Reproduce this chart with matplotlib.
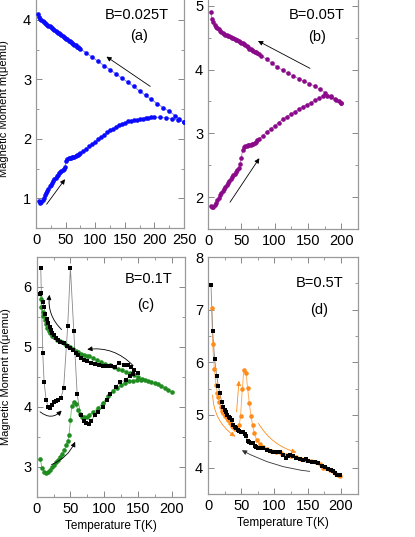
import numpy as np
import matplotlib.pyplot as plt
from matplotlib.ticker import MultipleLocator

plt.rcParams['font.family'] = ['Liberation Sans', 'DejaVu Sans']

# ---- (a) B=0.025T ----
a_fc_T = [3, 5, 7, 9, 11, 13, 15, 17, 19, 21, 23, 25, 27, 29, 31, 33, 35, 37, 39, 41,
          43, 45, 47, 49, 51, 53, 55, 57, 59, 61, 63, 65, 67, 69, 71, 73, 75, 85, 95, 105,
          115, 125, 135, 145, 155, 165, 175, 185, 195, 205, 215, 225, 235, 242, 250]
a_fc_m = [4.10, 4.05, 4.02, 4.00, 3.98, 3.96, 3.94, 3.93, 3.91, 3.90, 3.89, 3.87, 3.86, 3.84,
          3.83, 3.81, 3.80, 3.78, 3.77, 3.76, 3.74, 3.73, 3.71, 3.70, 3.68, 3.67, 3.65, 3.64,
          3.62, 3.61, 3.59, 3.58, 3.57, 3.55, 3.54, 3.52, 3.51, 3.44, 3.37, 3.30, 3.23, 3.16,
          3.09, 3.02, 2.95, 2.88, 2.80, 2.73, 2.66, 2.59, 2.52, 2.46, 2.39, 2.34, 2.28]
a_zfc_T = [5, 7, 9, 11, 13, 15, 17, 19, 21, 23, 25, 27, 29, 31, 33, 35, 37, 39, 41, 43, 45,
           47, 49, 51, 53, 55, 57, 59, 61, 63, 65, 67, 69, 71, 73, 75, 80, 85, 90, 95, 100,
           105, 110, 115, 120, 125, 130, 135, 140, 145, 150, 155, 160, 165, 170, 175, 180,
           185, 190, 195, 200, 210, 220, 230, 240, 250]
a_zfc_m = [0.95, 0.92, 0.93, 0.97, 1.01, 1.05, 1.09, 1.13, 1.16, 1.20, 1.23, 1.26, 1.29, 1.32,
           1.34, 1.37, 1.39, 1.42, 1.44, 1.46, 1.48, 1.50, 1.53, 1.62, 1.66, 1.67, 1.68, 1.68,
           1.69, 1.69, 1.70, 1.71, 1.72, 1.73, 1.74, 1.76, 1.79, 1.83, 1.87, 1.91, 1.95, 1.99,
           2.03, 2.07, 2.11, 2.14, 2.17, 2.20, 2.23, 2.25, 2.27, 2.29, 2.30, 2.31, 2.32, 2.33,
           2.34, 2.35, 2.35, 2.36, 2.36, 2.36, 2.35, 2.34, 2.31, 2.28]

# ---- (b) B=0.05T ----
b_fc_T = [4, 6, 8, 10, 12, 14, 16, 18, 20, 22, 24, 26, 28, 30, 32, 34, 36, 38, 40, 42, 44,
          46, 48, 50, 52, 54, 56, 58, 60, 62, 64, 66, 68, 70, 72, 74, 76, 80, 88, 96, 104,
          112, 120, 128, 136, 144, 152, 160, 168, 176, 184, 192, 200]
b_fc_m = [4.90, 4.80, 4.74, 4.70, 4.67, 4.65, 4.63, 4.61, 4.59, 4.58, 4.56, 4.55, 4.54, 4.53,
          4.52, 4.51, 4.50, 4.49, 4.48, 4.47, 4.46, 4.45, 4.43, 4.42, 4.41, 4.40, 4.38, 4.37,
          4.35, 4.33, 4.32, 4.30, 4.29, 4.28, 4.27, 4.26, 4.25, 4.22, 4.16, 4.10, 4.04, 3.99,
          3.94, 3.90, 3.86, 3.82, 3.78, 3.74, 3.69, 3.64, 3.59, 3.53, 3.47]
b_zfc_T = [4, 6, 8, 10, 12, 14, 16, 18, 20, 22, 24, 26, 28, 30, 32, 34, 36, 38, 40, 42, 44,
           46, 48, 50, 52, 54, 56, 58, 60, 62, 64, 66, 68, 70, 72, 74, 76, 82, 88, 94, 100,
           106, 112, 118, 124, 130, 136, 142, 148, 154, 160, 166, 172, 178, 184, 190, 196, 200]
b_zfc_m = [1.86, 1.85, 1.85, 1.87, 1.91, 1.95, 1.99, 2.03, 2.06, 2.10, 2.13, 2.16, 2.19, 2.22,
           2.25, 2.28, 2.31, 2.34, 2.37, 2.40, 2.43, 2.46, 2.52, 2.62, 2.74, 2.79, 2.80, 2.80,
           2.81, 2.81, 2.82, 2.83, 2.84, 2.85, 2.87, 2.89, 2.91, 2.96, 3.02, 3.07, 3.12, 3.17,
           3.22, 3.26, 3.30, 3.34, 3.38, 3.42, 3.45, 3.48, 3.52, 3.55, 3.58, 3.59, 3.57, 3.54,
           3.50, 3.47]

# ---- (c) B=0.1T ----
c_blk_w_T = [6, 9, 11, 14, 17, 19, 23, 26, 29, 32, 36, 40, 46, 50, 55, 60, 65, 70, 73, 77,
             81, 86, 91, 98, 104, 109, 117, 123, 132, 138, 143, 150]
c_blk_w_m = [6.32, 4.90, 4.41, 4.12, 4.00, 3.98, 4.04, 4.08, 4.10, 4.12, 4.15, 4.32, 5.35, 6.32,
             5.27, 4.22, 3.86, 3.76, 3.73, 3.72, 3.77, 3.86, 3.92, 4.00, 4.12, 4.22, 4.33, 4.41,
             4.45, 4.52, 4.55, 4.57]
c_blk_c_T = [5, 7, 9, 11, 13, 15, 17, 19, 21, 23, 25, 28, 31, 35, 40, 45, 50, 54, 58, 62, 66,
             70, 74, 80, 86, 92, 98, 104, 110, 116, 122, 129, 135, 140, 145, 150]
c_blk_c_m = [5.88, 5.90, 5.75, 5.66, 5.55, 5.47, 5.40, 5.33, 5.28, 5.24, 5.20, 5.15, 5.12, 5.09,
             5.06, 5.02, 4.98, 4.95, 4.90, 4.86, 4.82, 4.79, 4.76, 4.73, 4.71, 4.70, 4.69, 4.69,
             4.68, 4.67, 4.74, 4.70, 4.70, 4.66, 4.62, 4.57]
c_grn_w_T = [5, 8, 11, 14, 17, 20, 23, 26, 29, 32, 35, 38, 41, 44, 46, 48, 50, 52, 55, 58, 61,
             64, 67, 70, 74, 78, 84, 91, 98, 106, 113, 119, 125, 131, 137, 143, 149, 155, 160,
             165, 170, 175, 180, 185, 190, 195, 200]
c_grn_w_m = [3.14, 2.98, 2.92, 2.90, 2.91, 2.95, 3.00, 3.04, 3.08, 3.12, 3.17, 3.22, 3.28, 3.37,
             3.43, 3.53, 3.78, 4.02, 4.09, 4.05, 3.95, 3.88, 3.84, 3.83, 3.84, 3.87, 3.92, 3.98,
             4.07, 4.18, 4.27, 4.32, 4.36, 4.40, 4.43, 4.44, 4.45, 4.45, 4.45, 4.43, 4.42, 4.40,
             4.38, 4.35, 4.32, 4.29, 4.25]
c_grn_c_T = [5, 6, 7, 9, 10, 12, 14, 16, 18, 20, 23, 26, 30, 34, 38, 42, 46, 50, 54, 58, 62,
             66, 70, 74, 78, 84, 90, 96, 102, 108, 114, 120, 126, 132, 138, 144, 150, 156]
c_grn_c_m = [5.90, 5.80, 5.67, 5.58, 5.52, 5.45, 5.38, 5.32, 5.27, 5.23, 5.19, 5.16, 5.12, 5.10,
             5.08, 5.05, 5.02, 5.00, 4.97, 4.94, 4.91, 4.89, 4.87, 4.85, 4.85, 4.81, 4.78, 4.75,
             4.72, 4.70, 4.67, 4.64, 4.61, 4.59, 4.57, 4.54, 4.50, 4.46]

# ---- (d) B=0.5T ----
d_blk_T = [4.5, 7, 10, 13, 15.5, 18, 20.5, 23, 25, 27, 29, 31, 33, 35.5, 38, 40, 42, 45, 47,
           50, 52, 55, 57, 60, 62, 65, 67, 70, 72, 75, 78, 82, 88, 93, 98, 103, 108, 113, 117,
           120, 123, 128, 133, 138, 143, 147, 151, 156, 161, 166, 171, 176, 181, 185, 188, 191,
           194, 198]
d_blk_m = [7.47, 6.59, 6.06, 5.75, 5.55, 5.41, 5.25, 5.16, 5.10, 5.06, 5.00, 4.97, 4.95, 4.91,
           4.81, 4.78, 4.75, 4.71, 4.69, 4.68, 4.67, 4.63, 4.60, 4.50, 4.48, 4.47, 4.46, 4.42,
           4.40, 4.38, 4.37, 4.37, 4.33, 4.31, 4.29, 4.30, 4.29, 4.25, 4.18, 4.22, 4.25, 4.22,
           4.18, 4.17, 4.15, 4.17, 4.12, 4.11, 4.10, 4.08, 4.03, 4.01, 3.98, 3.96, 3.93, 3.89,
           3.87, 3.87]
d_org_T = [5.5, 7, 9.5, 12, 14, 15.5, 17, 19, 21, 23, 25, 28, 30, 33, 36, 38, 41, 44, 47, 49,
           51.6, 54, 57, 59.6, 62, 64.7, 67, 69.6, 73, 78, 83, 88, 95, 102, 110, 118, 125, 132,
           140, 147, 155, 162, 168, 173, 178, 183, 188, 193, 196, 199]
d_org_m = [7.04, 6.34, 5.88, 5.57, 5.42, 5.35, 5.25, 5.16, 5.08, 5.03, 4.98, 4.94, 4.90, 4.84,
           4.80, 4.78, 4.74, 4.73, 4.81, 4.98, 5.50, 5.86, 5.80, 5.52, 5.23, 4.98, 4.81, 4.65,
           4.53, 4.45, 4.40, 4.35, 4.32, 4.30, 4.27, 4.25, 4.22, 4.20, 4.17, 4.15, 4.12, 4.10,
           4.07, 4.00, 3.99, 3.96, 3.93, 3.88, 3.86, 3.85]

W, H = 415, 537
fig = plt.figure(figsize=(W / 100, H / 100), dpi=100)


def px_axes(left, right, bottom, top):
    # pixel box -> figure fraction
    return fig.add_axes([left / W, 1 - bottom / H, (right - left) / W, (bottom - top) / H])


def style(ax, xlim, ylim, xmaj=50, xmin=25):
    ax.set_xlim(*xlim)
    ax.set_ylim(*ylim)
    ax.xaxis.set_major_locator(MultipleLocator(xmaj))
    ax.xaxis.set_minor_locator(MultipleLocator(xmin))
    ax.yaxis.set_major_locator(MultipleLocator(1))
    ax.yaxis.set_minor_locator(MultipleLocator(0.5))
    ax.tick_params(which='both', direction='in', top=True, right=True, color='#888888',
                   labelsize=10.5, pad=3.5)
    ax.tick_params(which='major', length=4, width=0.7)
    ax.tick_params(which='minor', length=2.5, width=0.6)
    for s in ax.spines.values():
        s.set_color('#999999')
        s.set_linewidth(0.9)


def arrow(ax, tail, head, color='k', rad=0.0, lw=0.6):
    ax.annotate('', xy=head, xytext=tail,
                arrowprops=dict(arrowstyle='-|>', color=color, lw=lw, mutation_scale=7,
                                shrinkA=0, shrinkB=0,
                                connectionstyle='arc3,rad=%s' % rad))


ms_c = 3.3
ms_s = 3.0

# (a)
ax_a = px_axes(36, 184, 228, -10)
style(ax_a, (0, 250), (0.5, 4.5))
blue = '#0a0aff'
for T, m in [(a_fc_T, a_fc_m), (a_zfc_T, a_zfc_m)]:
    ax_a.plot(T, m, '-', color='#6f6fff', lw=0.6, zorder=2)
    ax_a.plot(T, m, 'o', color=blue, ms=ms_c, mew=0, zorder=3)
arrow(ax_a, (18, 0.9), (49, 1.32))
arrow(ax_a, (193, 2.88), (119, 3.38))
ax_a.set_yticks([1, 2, 3, 4])
ax_a.set_ylabel('Magnetic Moment m(\u03bcemu)', fontsize=8)
ax_a.yaxis.set_label_coords(-0.18, 0.5 - 0.0)

# (b)
ax_b = px_axes(208, 358, 229, -26)
style(ax_b, (0, 225), (1.5, 5.5))
purple = '#8a0a8a'
for T, m in [(b_fc_T, b_fc_m), (b_zfc_T, b_zfc_m)]:
    ax_b.plot(T, m, '-', color='#c070c0', lw=0.6, zorder=2)
    ax_b.plot(T, m, 'o', color=purple, ms=ms_c, mew=0, zorder=3)
arrow(ax_b, (33, 1.92), (77, 2.61))
arrow(ax_b, (153, 4.02), (75, 4.45))
ax_b.set_xticks([0, 50, 100, 150, 200])

# (c)
ax_c = px_axes(36.7, 185, 497, 257)
style(ax_c, (0, 220), (2.5, 6.5))
green = '#1e8c1e'
for T, m in [(c_grn_w_T, c_grn_w_m), (c_grn_c_T, c_grn_c_m)]:
    ax_c.plot(T, m, '-', color='#5fbf5f', lw=0.6, zorder=2)
    ax_c.plot(T, m, 'o', color=green, ms=ms_c, mew=0, zorder=3)
for T, m in [(c_blk_w_T, c_blk_w_m), (c_blk_c_T, c_blk_c_m)]:
    ax_c.plot(T, m, '-', color='#888888', lw=0.6, zorder=2)
    ax_c.plot(T, m, 's', color='k', ms=ms_s, mew=0, zorder=4)
arrow(ax_c, (37, 5.29), (19, 5.87), rad=-0.25)
arrow(ax_c, (143, 4.69), (75, 4.96), rad=0.25)
arrow(ax_c, (5, 3.92), (37, 3.94), rad=0.45)
arrow(ax_c, (22, 3.04), (57, 3.42), rad=0.2)
ax_c.set_xticks([0, 50, 100, 150, 200])
ax_c.set_yticks([3, 4, 5, 6])
ax_c.set_xlabel('Temperature T(K)', fontsize=8.5, labelpad=3)
ax_c.set_ylabel('Magnetic Moment m(\u03bcemu)', fontsize=8)
ax_c.yaxis.set_label_coords(-0.17, 0.5)

# (d)
ax_d = px_axes(208, 357.6, 494, 257)
style(ax_d, (0, 225), (3.5, 8))
orange = '#ff8c1a'
ax_d.plot(d_org_T, d_org_m, '-', color='#ffb060', lw=0.7, zorder=2)
ax_d.plot(d_org_T, d_org_m, 'o', color=orange, ms=ms_c, mew=0, zorder=3)
ax_d.plot(d_blk_T, d_blk_m, '-', color='#888888', lw=0.6, zorder=2)
ax_d.plot(d_blk_T, d_blk_m, 's', color='k', ms=ms_s, mew=0, zorder=4)
arrow(ax_d, (7, 5.38), (41, 4.59), color=orange, rad=0.25)
arrow(ax_d, (43, 5.06), (46.6, 5.65), color=orange, rad=0.0)
arrow(ax_d, (76, 4.84), (133, 4.29), color=orange, rad=0.2)
arrow(ax_d, (153, 3.93), (51, 4.33), color='#333333', rad=-0.1)
ax_d.set_xticks([0, 50, 100, 150, 200])
ax_d.set_yticks([4, 5, 6, 7, 8])
ax_d.set_xlabel('Temperature T(K)', fontsize=8.5, labelpad=3)

# panel labels
labels = [('B=0.025T', 136.5, 15), ('(a)', 139, 36),
          ('B=0.05T', 316.5, 15), ('(b)', 317, 37),
          ('B=0.1T', 149, 279), ('(c)', 146, 305),
          ('B=0.5T', 320, 283), ('(d)', 319, 310)]
for txt, x, y in labels:
    fig.text(x / W, 1 - y / H, txt, fontsize=10.5, ha='center', va='center')

fig.savefig('out.png', dpi=100)
